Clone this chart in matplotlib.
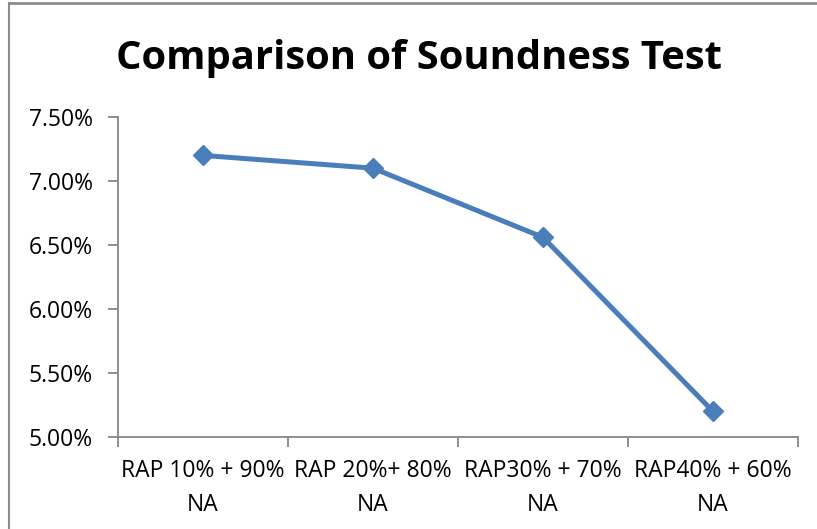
import numpy as np
import matplotlib.pyplot as plt
from matplotlib.lines import Line2D

plt.rcParams['font.family'] = ['Open Sans', 'DejaVu Sans']

categories = ["RAP 10% + 90%\nNA", "RAP 20%+ 80%\nNA", "RAP30% + 70%\nNA", "RAP40% + 60%\nNA"]
soundness = [7.20, 7.10, 6.56, 5.20]
y_ticks = [5.0, 5.5, 6.0, 6.5, 7.0, 7.5]

fig = plt.figure(figsize=(8.17, 5.29), dpi=100)
ax = fig.add_axes([118 / 817, 1 - 437 / 529, 680 / 817, 320 / 529])

x = np.arange(len(categories))
ax.plot(x, soundness, color='#4A7EBB', linewidth=3.6, marker='D', markersize=10,
        markerfacecolor='#4A7EBB', markeredgecolor='#4A7EBB', zorder=3)

ax.set_xlim(-0.5, len(categories) - 0.5)
ax.set_ylim(5.0, 7.5)

axis_grey = '#868686'
for side in ['top', 'right']:
    ax.spines[side].set_visible(False)
for side in ['left', 'bottom']:
    ax.spines[side].set_color(axis_grey)
    ax.spines[side].set_linewidth(1.3)

# boundaries get tick marks, centres carry the labels
ax.set_xticks(np.arange(-0.5, len(categories), 1.0))
ax.set_xticklabels([])
ax.set_xticks(x, minor=True)
ax.set_xticklabels(categories, minor=True, fontsize=16.5, linespacing=1.55)
ax.tick_params(axis='x', which='major', length=7, width=1.3, color=axis_grey, direction='out')
ax.tick_params(axis='x', which='minor', length=0, pad=16)

ax.set_yticks(y_ticks)
ax.set_yticklabels([f"{v:.2f}%" for v in y_ticks], fontsize=16.5)
ax.tick_params(axis='y', length=7, width=1.3, color=axis_grey, direction='out', pad=11)

fig.text(418.5 / 817, 1 - 58 / 529, "Comparison of Soundness Test", ha='center', va='center',
         fontsize=28.8, fontweight='bold')

# outer frame lines
fig.add_artist(Line2D([9 / 817, 1], [1 - 3 / 529, 1 - 3 / 529], color='#8c8c8c', linewidth=2,
                      transform=fig.transFigure))
fig.add_artist(Line2D([9 / 817, 9 / 817], [0, 1 - 3 / 529], color='#8c8c8c', linewidth=1.5,
                      transform=fig.transFigure))

fig.savefig('out.png', dpi=100)
